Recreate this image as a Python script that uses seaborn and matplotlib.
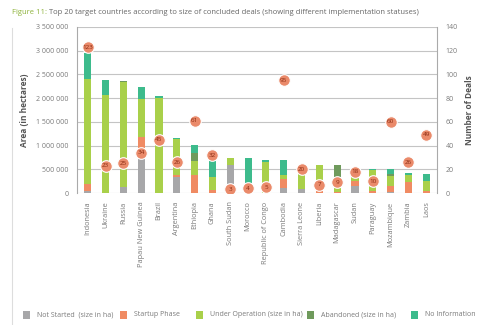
import matplotlib
matplotlib.use("Agg")
import matplotlib.pyplot as plt
from matplotlib.lines import Line2D
from matplotlib.patches import Rectangle
import numpy as np
import pandas as pd
import seaborn as sns

countries = ["Indonesia", "Ukraine", "Russia", "Papau New Guinea", "Brazil", "Argentina",
             "Ethiopia", "Ghana", "South Sudan", "Morocco", "Republic of Congo", "Cambodia",
             "Sierra Leone", "Liberia", "Madagascar", "Sudan", "Paraguay", "Mozambique",
             "Zambia", "Laos"]

not_started = [50000, 0, 130000, 800000, 0, 330000, 0, 0, 600000, 0, 0, 100000,
               80000, 0, 0, 150000, 0, 30000, 0, 0]
startup = [140000, 0, 0, 380000, 0, 40000, 385000, 60000, 0, 0, 0, 200000,
           0, 70000, 20000, 100000, 40000, 120000, 230000, 50000]
under_operation = [2210000, 2070000, 2200000, 800000, 2000000, 760000, 295000, 280000, 140000, 0,
                   650000, 80000, 520000, 530000, 180000, 270000, 440000, 210000, 150000, 200000]
abandoned = [0, 0, 40000, 0, 0, 0, 165000, 0, 0, 0, 0, 0,
             0, 0, 400000, 0, 0, 50000, 0, 0]
no_information = [550000, 310000, 0, 250000, 40000, 20000, 165000, 400000, 0, 738000,
                  45000, 320000, 0, 0, 0, 0, 20000, 100000, 40000, 160000]

deals = [123, 23, 25, 34, 45, 26, 61, 32, 3, 4, 5, 95, 20, 7, 9, 18, 10, 60, 26, 49]

layers = ["Not Started  (size in ha)", "Startup Phase", "Under Operation (size in ha)",
          "Abandoned (size in ha)", "No Information"]
colors = ["#a7a7a9", "#f08b63", "#a9d04a", "#6f9a5c", "#3dbb8c"]

df = pd.DataFrame({
    "country": countries,
    layers[0]: not_started,
    layers[1]: startup,
    layers[2]: under_operation,
    layers[3]: abandoned,
    layers[4]: no_information,
    "deals": deals,
})
cum = df[layers].cumsum(axis=1)

plt.rcParams["font.family"] = ["Open Sans", "DejaVu Sans"]
fig = plt.figure(figsize=(5, 3.25), dpi=100)
ax = fig.add_axes([0.154, 0.406, 0.72, 0.511])

grey_txt = "#7a7a7a"

# stacked bars: draw cumulative totals from the top layer down
for name, col in reversed(list(zip(layers, colors))):
    sns.barplot(x=df["country"], y=cum[name], color=col, width=0.4,
                saturation=1, ax=ax, zorder=3, linewidth=0)

ax.set_ylim(0, 3500000)
ax.set_xlim(-0.6, len(countries) - 0.4)
yt = np.arange(0, 3500001, 500000)
ax.set_yticks(yt)
ax.set_yticklabels([f"{v:,.0f}".replace(",", " ") for v in yt], fontsize=5, color=grey_txt)
ax.yaxis.grid(True, color="#c4c4c4", linewidth=0.8, zorder=0)
ax.set_axisbelow(True)
ax.set_xlabel("")
ax.set_ylabel("Area (in hectares)", fontsize=6, fontweight="bold", color="#555555", labelpad=5)
ax.set_xticks(range(len(countries)))
ax.set_xticklabels(countries, rotation=90, fontsize=5.3, color=grey_txt)
ax.tick_params(axis="both", length=0, pad=6)
for s in ["top", "bottom"]:
    ax.spines[s].set_visible(False)
for s in ["left", "right"]:
    ax.spines[s].set_color("#aaaaaa")
    ax.spines[s].set_linewidth(0.8)

ax2 = ax.twinx()
ax2.set_ylim(0, 140)
ax2.set_yticks(np.arange(0, 141, 20))
ax2.set_yticklabels([str(v) for v in range(0, 141, 20)], fontsize=5, color=grey_txt)
ax2.tick_params(axis="y", length=0, pad=6)
ax2.set_ylabel("Number of Deals", fontsize=6, fontweight="bold", color="#555555", labelpad=5)
for s in ax2.spines.values():
    s.set_visible(False)

sns.scatterplot(x=np.arange(len(countries)), y=df["deals"], ax=ax2, s=70,
                color="#ea8a6a", edgecolor="white", linewidth=0.8, zorder=5, legend=False)
for i, d in enumerate(deals):
    ax2.text(i, d, str(d), ha="center", va="center", fontsize=4.5,
             color="#8a2a10", zorder=6)
ax2.set_xlim(-0.6, len(countries) - 0.4)

# title
fig.text(0.024, 0.962, "Figure 11:", fontsize=5.5, color="#8db23a", va="center")
fig.text(0.098, 0.962, "Top 20 target countries according to size of concluded deals (showing different implementation statuses)",
         fontsize=5.5, color="#666666", va="center")

# left margin rule
fig.add_artist(Line2D([0.024, 0.024], [0.0, 0.915], color="#dddddd", linewidth=0.8))

# legend row
legend_x = [0.046, 0.240, 0.392, 0.614, 0.822]
for x, lab, col in zip(legend_x, layers, colors):
    fig.add_artist(Rectangle((x, 0.020), 0.014, 0.022, facecolor=col, edgecolor="none"))
    fig.text(x + 0.028, 0.031, lab, fontsize=5, color=grey_txt, va="center")

fig.savefig("out.png", dpi=100)
